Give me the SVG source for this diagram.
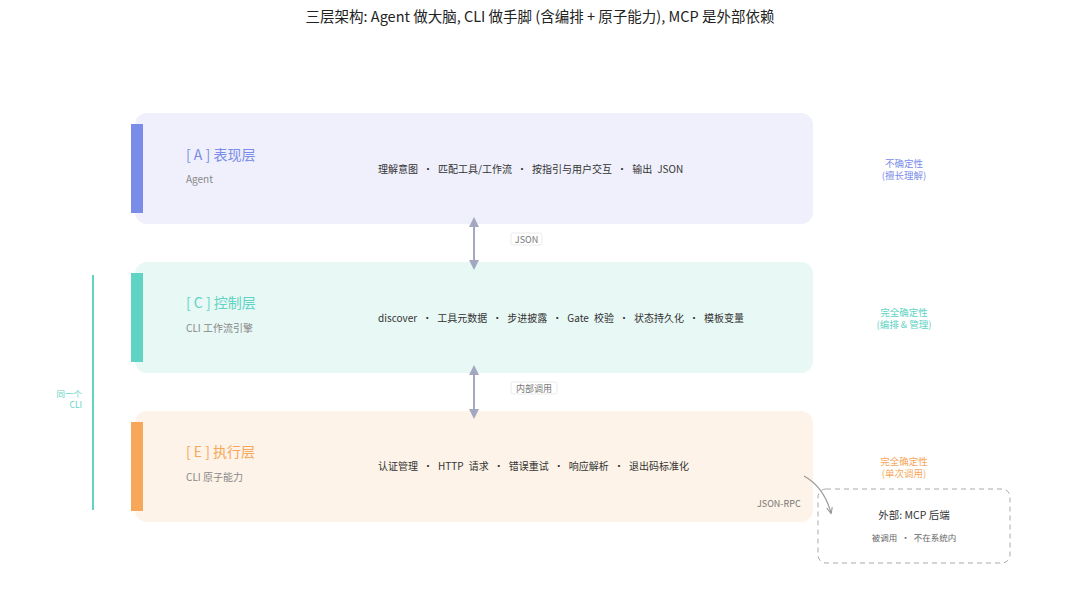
<svg xmlns="http://www.w3.org/2000/svg" width="1080" height="594" viewBox="0 0 1080 594">
<style>
text{font-family:"Noto Sans CJK SC","Noto Sans",sans-serif}
.t{font-size:14px}
.s{font-size:10px;fill:#888}
.d{font-size:10px;fill:#333;word-spacing:2.8px}
.r{font-size:9.5px;text-anchor:middle}
.lbl{font-size:9px;fill:#777}
.conn{stroke:#a3a7bf;stroke-width:2;fill:none}
</style>
<defs>
<marker id="ah" viewBox="0 0 10 10" refX="8" refY="5" markerWidth="5" markerHeight="5" orient="auto-start-reverse"><path d="M0,0L10,5L0,10z" fill="#a3a7bf"/></marker>
<marker id="ah2" viewBox="0 0 10 10" refX="8" refY="5" markerWidth="6" markerHeight="6" orient="auto"><path d="M0,1L9,5L0,9" fill="none" stroke="#999" stroke-width="1.5"/></marker>
</defs>
<rect width="1080" height="594" fill="#fff"/>
<text x="540" y="22" text-anchor="middle" font-size="14.5" fill="#222">三层架构: Agent 做大脑, CLI 做手脚 (含编排 + 原子能力), MCP 是外部依赖</text>
<g id="layerA">
<rect x="135" y="113" width="678" height="111" rx="12" fill="#eff0fb"/>
<rect x="131" y="124" width="12" height="89" fill="#7b8ce8"/>
<text x="186" y="160" class="t" fill="#7b8ce8">[ A ] 表现层</text>
<text x="186" y="183" class="s">Agent</text>
<text x="378" y="173" class="d">理解意图 · 匹配工具/工作流 · 按指引与用户交互 · 输出 JSON</text>
<text x="904" y="167" class="r" fill="#7b8ce8">不确定性</text>
<text x="904" y="179" class="r" fill="#7b8ce8">(擅长理解)</text>
</g>
<g id="layerC">
<rect x="135" y="262" width="678" height="111" rx="12" fill="#e8f8f5"/>
<rect x="131" y="273" width="12" height="89" fill="#5fd3c4"/>
<text x="186" y="308" class="t" fill="#5fd3c4">[ C ] 控制层</text>
<text x="186" y="332" class="s">CLI 工作流引擎</text>
<text x="378" y="322" class="d">discover · 工具元数据 · 步进披露 · Gate 校验 · 状态持久化 · 模板变量</text>
<text x="904" y="316" class="r" fill="#5fd3c4">完全确定性</text>
<text x="904" y="328" class="r" fill="#5fd3c4">(编排 &amp; 管理)</text>
</g>
<g id="layerE">
<rect x="135" y="411" width="678" height="111" rx="12" fill="#fdf3e8"/>
<rect x="131" y="422" width="12" height="89" fill="#f6a75a"/>
<text x="186" y="457" class="t" fill="#f6a75a">[ E ] 执行层</text>
<text x="186" y="481" class="s">CLI 原子能力</text>
<text x="378" y="470" class="d">认证管理 · HTTP 请求 · 错误重试 · 响应解析 · 退出码标准化</text>
<text x="904" y="465" class="r" fill="#f6a75a">完全确定性</text>
<text x="904" y="477" class="r" fill="#f6a75a">(单次调用)</text>
<text x="757" y="507" class="lbl">JSON-RPC</text>
</g>
<g id="mcp">
<rect x="818" y="489" width="192" height="74" rx="8" fill="#fff" stroke="#aaa" stroke-dasharray="5,4"/>
<text x="914" y="519" text-anchor="middle" font-size="10.5" fill="#333">外部: MCP 后端</text>
<text x="914" y="541" text-anchor="middle" font-size="8.5" fill="#666" word-spacing="2px">被调用 · 不在系统内</text>
</g>
<g id="cli-group">
<line x1="93" y1="275" x2="93" y2="510" stroke="#5fd3c4" stroke-width="2"/>
<text x="82" y="397" text-anchor="end" font-size="8.5" fill="#5fd3c4">同一个</text>
<text x="82" y="408" text-anchor="end" font-size="8.5" fill="#5fd3c4">CLI</text>
</g>
<g id="connectors">
<line x1="474" y1="219" x2="474" y2="268" class="conn" marker-start="url(#ah)" marker-end="url(#ah)"/>
<rect x="511" y="233" width="31" height="12" rx="2" fill="#fff" stroke="#ddd" stroke-width="0.6"/>
<text x="526.5" y="242.5" text-anchor="middle" class="lbl">JSON</text>
<line x1="474" y1="367" x2="474" y2="417" class="conn" marker-start="url(#ah)" marker-end="url(#ah)"/>
<rect x="511" y="382" width="46" height="12" rx="2" fill="#fff" stroke="#ddd" stroke-width="0.6"/>
<text x="534" y="391.5" text-anchor="middle" class="lbl">内部调用</text>
<path d="M804,476 Q824,487 831,513" stroke="#999" stroke-width="1.2" fill="none" marker-end="url(#ah2)"/>
</g>
</svg>
